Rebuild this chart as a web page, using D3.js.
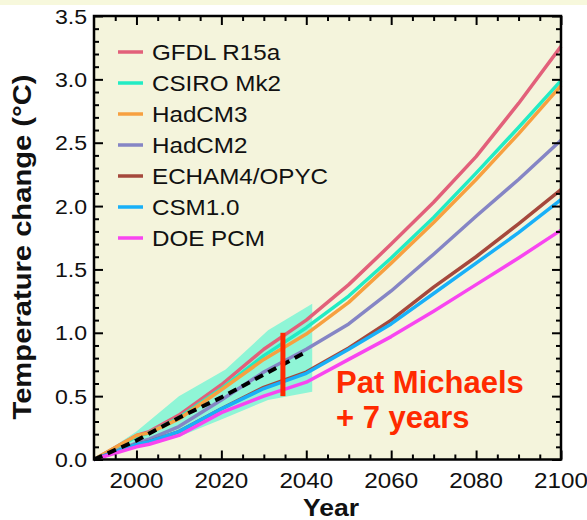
<!DOCTYPE html>
<html>
<head>
<meta charset="utf-8">
<script src="https://cdn.jsdelivr.net/npm/d3@7"></script>
<style>
  body { margin: 0; background: #fff; }
  text { font-family: "Liberation Sans", Arial, Helvetica, sans-serif; fill: #111; }
</style>
</head>
<body>
<div id="chart"></div>
<script>
// model runs
var years = [1990, 2000, 2003, 2010, 2020, 2030, 2040, 2050, 2060, 2070, 2080, 2090, 2100];
var models = ["GFDL R15a", "CSIRO Mk2", "HadCM3", "HadCM2", "ECHAM4/OPYC", "CSM1.0", "DOE PCM"];
var colors = ["#e2607a", "#22ecc4", "#f7a040", "#8585c5", "#a5483c", "#18b0f8", "#f845f0"];
var gfdl   = [0, 0.19, 0.22, 0.35, 0.59, 0.87, 1.10, 1.38, 1.70, 2.03, 2.39, 2.81, 3.26];
var csiro  = [0, 0.18, 0.21, 0.33, 0.56, 0.82, 1.04, 1.29, 1.59, 1.91, 2.26, 2.62, 2.99];
var hadcm3 = [0, 0.19, 0.21, 0.32, 0.55, 0.79, 0.99, 1.24, 1.55, 1.87, 2.21, 2.57, 2.95];
var hadcm2 = [0, 0.13, 0.16, 0.26, 0.47, 0.69, 0.87, 1.07, 1.33, 1.62, 1.92, 2.21, 2.52];
var echam  = [0, 0.12, 0.14, 0.22, 0.40, 0.57, 0.69, 0.88, 1.10, 1.36, 1.60, 1.86, 2.13];
var csm    = [0, 0.12, 0.14, 0.22, 0.40, 0.56, 0.68, 0.87, 1.07, 1.31, 1.55, 1.79, 2.05];
var doe    = [0, 0.10, 0.12, 0.19, 0.37, 0.50, 0.61, 0.79, 0.97, 1.17, 1.38, 1.59, 1.81];
var series = [gfdl, csiro, hadcm3, hadcm2, echam, csm, doe];

// shaded range and the dashed mean
var bandYears = [1990, 2000, 2010, 2021, 2031, 2041.4];
var bandUpper = [0, 0.22, 0.50, 0.71, 1.02, 1.23];
var bandLower = [0, 0.09, 0.18, 0.33, 0.47, 0.535];
var meanYears = [1990, 2000, 2010, 2020, 2030, 2039.5];
var meanVals  = [0, 0.15, 0.33, 0.49, 0.67, 0.84];

// red bar
var barYear = 2034.5, barLow = 0.5, barHigh = 1.0;

var xTicks = [2000, 2020, 2040, 2060, 2080, 2100];
var yTicks = [0, 0.5, 1.0, 1.5, 2.0, 2.5, 3.0, 3.5];

var width = 587, height = 520;

var x = d3.scaleLinear().domain([1990, 2100]).range([94, 561]);
var y = d3.scaleLinear().domain([0, 3.5]).range([459.5, 16]);

var svg = d3.select("#chart").append("svg")
    .attr("width", width)
    .attr("height", height);

// thin pale strip along the top of the slide
svg.append("rect").attr("x", 0).attr("y", 0).attr("width", width).attr("height", 5)
    .attr("fill", "#f7f8dc");

// plot background
svg.append("rect")
    .attr("x", x(1990)).attr("y", y(3.5))
    .attr("width", x(2100) - x(1990)).attr("height", y(0) - y(3.5))
    .attr("fill", "#f4f4dc");

// spread of the models
var area = d3.area()
    .x(function(d, i) { return x(bandYears[i]); })
    .y0(function(d, i) { return y(bandLower[i]); })
    .y1(function(d, i) { return y(bandUpper[i]); });

svg.append("path")
    .datum(bandYears)
    .attr("d", area)
    .attr("fill", "#8ff5d6");

var line = d3.line()
    .x(function(d, i) { return x(years[i]); })
    .y(function(d) { return y(d); });

svg.selectAll(".model")
    .data(series)
    .enter().append("path")
    .attr("class", "model")
    .attr("d", line)
    .attr("fill", "none")
    .attr("stroke", function(d, i) { return colors[i]; })
    .attr("stroke-width", 3.5)
    .attr("stroke-linejoin", "round");

// dashed black line
var meanLine = d3.line()
    .x(function(d, i) { return x(meanYears[i]); })
    .y(function(d) { return y(d); });

svg.append("path")
    .datum(meanVals)
    .attr("d", meanLine)
    .attr("fill", "none")
    .attr("stroke", "#000")
    .attr("stroke-width", 4)
    .attr("stroke-dasharray", "9,6");

// red bar
svg.append("line")
    .attr("x1", x(barYear)).attr("x2", x(barYear))
    .attr("y1", y(barLow)).attr("y2", y(barHigh))
    .attr("stroke", "#ff2a00")
    .attr("stroke-width", 5);

// ticks on all four sides, pointing inward
function addTicks(axis, tx, ty) {
    svg.append("g")
        .attr("transform", "translate(" + tx + "," + ty + ")")
        .call(axis)
        .call(function(g) {
            g.select(".domain").remove();
            g.selectAll("line").attr("stroke", "#000").attr("stroke-width", 2);
        });
}
var minorX = d3.range(1995, 2100, 5).filter(function(d) { return d % 20 !== 0; });
var minorY = d3.range(1, 35).map(function(d) { return d / 10; }).filter(function(d) { return Math.round(d * 10) % 5 !== 0; });

addTicks(d3.axisBottom(x).tickValues(xTicks).tickSize(-9).tickFormat(""), 0, y(0));
addTicks(d3.axisBottom(x).tickValues(minorX).tickSize(-5).tickFormat(""), 0, y(0));
addTicks(d3.axisTop(x).tickValues(xTicks).tickSize(-9).tickFormat(""), 0, y(3.5));
addTicks(d3.axisTop(x).tickValues(minorX).tickSize(-5).tickFormat(""), 0, y(3.5));
addTicks(d3.axisLeft(y).tickValues(yTicks).tickSize(-9).tickFormat(""), x(1990), 0);
addTicks(d3.axisLeft(y).tickValues(minorY).tickSize(-5).tickFormat(""), x(1990), 0);
addTicks(d3.axisRight(y).tickValues(yTicks).tickSize(-9).tickFormat(""), x(2100), 0);
addTicks(d3.axisRight(y).tickValues(minorY).tickSize(-5).tickFormat(""), x(2100), 0);

// frame
svg.append("rect")
    .attr("x", x(1990)).attr("y", y(3.5))
    .attr("width", x(2100) - x(1990)).attr("height", y(0) - y(3.5))
    .attr("fill", "none")
    .attr("stroke", "#000")
    .attr("stroke-width", 2.5);

// tick labels (the picture is a bit wider than tall, so text is stretched sideways)
svg.selectAll(".xlab")
    .data(xTicks)
    .enter().append("text")
    .attr("class", "xlab")
    .attr("transform", function(d) { return "translate(" + x(d) + "," + (y(0) + 28) + ") scale(1.1,1)"; })
    .attr("text-anchor", "middle")
    .style("font-size", "22px")
    .text(function(d) { return d; });

svg.selectAll(".ylab")
    .data(yTicks)
    .enter().append("text")
    .attr("class", "ylab")
    .attr("transform", function(d) { return "translate(" + (x(1990) - 7) + "," + y(d) + ") scale(1.1,1)"; })
    .attr("text-anchor", "end")
    .attr("dy", "0.36em")
    .style("font-size", "21px")
    .text(function(d) { return d3.format(".1f")(d); });

// axis titles
svg.append("text")
    .attr("x", 331).attr("y", 516)
    .attr("text-anchor", "middle")
    .attr("textLength", 56)
    .attr("lengthAdjust", "spacingAndGlyphs")
    .style("font-size", "24px")
    .style("font-weight", "bold")
    .text("Year");

svg.append("text")
    .attr("transform", "translate(31,247) rotate(-90)")
    .attr("text-anchor", "middle")
    .attr("textLength", 345)
    .attr("lengthAdjust", "spacingAndGlyphs")
    .style("font-size", "26px")
    .style("font-weight", "bold")
    .text("Temperature change (\u00B0C)");

// legend
var legend = svg.selectAll(".legend")
    .data(models)
    .enter().append("g")
    .attr("class", "legend")
    .attr("transform", function(d, i) { return "translate(118," + (52 + i * 31) + ")"; });

legend.append("line")
    .attr("x1", 0).attr("x2", 25)
    .attr("stroke", function(d, i) { return colors[i]; })
    .attr("stroke-width", 3.5);

legend.append("text")
    .attr("transform", "translate(34,8) scale(1.1,1)")
    .style("font-size", "22px")
    .text(function(d) { return d; });

// annotation
var note = svg.append("text")
    .attr("x", 336)
    .style("font-size", "31px")
    .style("font-weight", "bold")
    .style("fill", "#ff2a00");
note.append("tspan").attr("x", 336).attr("y", 393).text("Pat Michaels");
note.append("tspan").attr("x", 336).attr("y", 428).text("+ 7 years");
</script>
</body>
</html>
